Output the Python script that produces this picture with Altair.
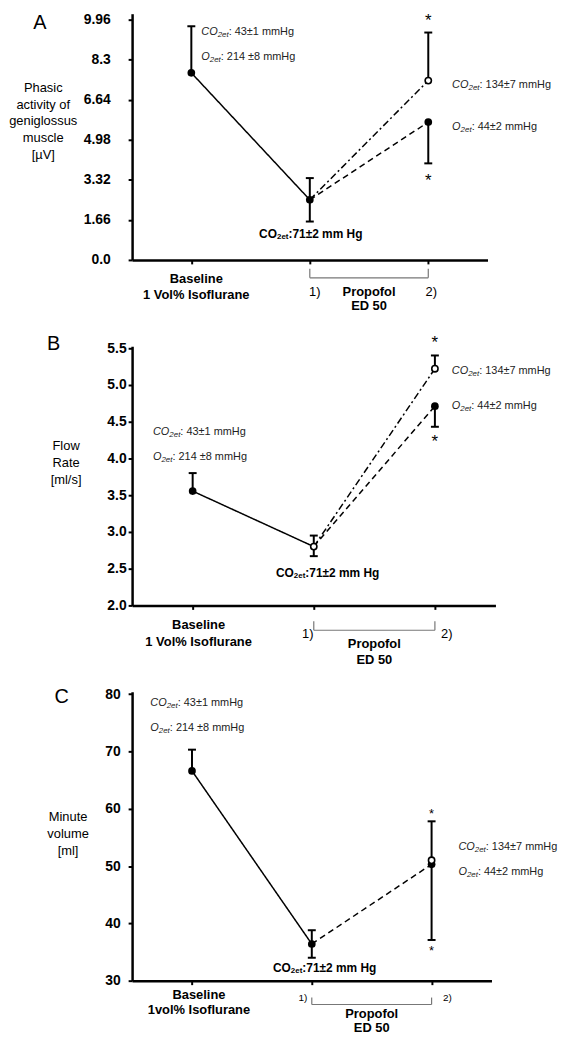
import altair as alt
import pandas as pd

FONT = "Liberation Sans"

# ---------------- data ----------------
# point order: 0 Baseline, 1 Propofol 1), 2 Propofol 2) CO2et 134 (open), 3 Propofol 2) O2et 44 (filled)
stage_x = [0, 1, 2, 2]

# Panel A: phasic activity of genioglossus muscle [µV]
A_mean = [7.75, 2.49, 7.43, 5.71]
A_hi = [9.68, 3.39, 9.42, None]
A_lo = [None, 1.59, None, 4.00]
A_open = [False, False, True, False]
A_yticks = [0.0, 1.66, 3.32, 4.98, 6.64, 8.3, 9.96]

# Panel B: flow rate [ml/s]
B_mean = [3.555, 2.80, 5.22, 4.71]
B_hi = [3.80, 2.95, 5.40, None]
B_lo = [None, 2.67, None, 4.43]
B_open = [False, True, True, False]
B_yticks = [2.0, 2.5, 3.0, 3.5, 4.0, 4.5, 5.0, 5.5]

# Panel C: minute volume [ml]
C_mean = [66.6, 36.4, 51.0, 50.3]
C_hi = [70.3, 38.8, 57.8, None]
C_lo = [None, 34.0, None, 37.1]
C_open = [False, False, True, False]
C_yticks = [30, 40, 50, 60, 70, 80]

# texts
NOTE_BASE_CO2 = ": 43±1 mmHg"
NOTE_BASE_O2 = ": 214 ±8 mmHg"
NOTE_P2_CO2 = ": 134±7 mmHg"
NOTE_P2_O2 = ": 44±2 mmHg"
NOTE_P1 = ":71±2 mm Hg"

# ---------------- helpers ----------------
REG = {' ': 278, ':': 278, '±': 549, 'm': 833, 'H': 722, 'g': 556, 'C': 722,
       'O': 778, 'e': 556, 't': 278}
BOLD = {' ': 278, ':': 333, '±': 549, 'm': 889, 'H': 722, 'g': 611, 'C': 722,
        'O': 778, 'e': 556, 't': 333}


def tw(s, size, bold=False):
    tbl = BOLD if bold else REG
    return sum(tbl.get(c, 556) for c in s) * size / 1000.0


DASH = {"solid": [1, 0], "dash": [6, 4], "dashdot": [7, 3, 2, 3]}


def panel(mean, hi, lo, opened, yticks, cfg):
    X = alt.X("x:Q", scale=alt.Scale(domain=[-0.5, 2.5], nice=False, zero=False),
              axis=alt.Axis(values=[0, 1, 2], labels=False, title=None, tickSize=4))
    Y = alt.Y("y:Q", scale=alt.Scale(domain=cfg["ydom"], nice=False, zero=False),
              axis=alt.Axis(values=yticks, format=cfg["fmt"], labelExpr=cfg["lexpr"],
                            labelPadding=cfg["lpad"], title=cfg["ytitle"], titleAngle=0,
                            titleAlign="center", titleBaseline="middle",
                            titleX=cfg["tx"], titleY=cfg["ty"], titleFontSize=13,
                            titleFontWeight="normal", titleLineHeight=17, titleFont=FONT))
    layers = []

    # connecting lines
    segs = {"iso": (0, 1), "co2": (1, 2), "o2": (1, 3)}
    names = [n for n in ["iso", "co2", "o2"] if cfg["styles"].get(n)]
    rows = []
    for n in names:
        i, j = segs[n]
        rows.append({"x": stage_x[i], "y": mean[i], "seg": n})
        rows.append({"x": stage_x[j], "y": mean[j], "seg": n})
    layers.append(alt.Chart(pd.DataFrame(rows)).mark_line(color="black", strokeWidth=1.5).encode(
        x=X, y=Y,
        strokeDash=alt.StrokeDash("seg:N", scale=alt.Scale(
            domain=names, range=[DASH[cfg["styles"][n]] for n in names]), legend=None)))

    # error bars
    err = []
    for k in range(4):
        for end in (hi[k], lo[k]):
            if end is not None:
                err.append({"x": stage_x[k], "y": mean[k], "y2": end})
    err_df = pd.DataFrame(err)
    layers.append(alt.Chart(err_df).mark_rule(color="black", strokeWidth=2).encode(
        x=X, y=Y, y2="y2:Q"))
    caps_df = pd.DataFrame({"x": err_df["x"], "y": err_df["y2"]})
    layers.append(alt.Chart(caps_df).mark_rule(color="black", strokeWidth=2, xOffset=-4,
                                               x2Offset=4).encode(x=X, x2="x:Q", y=Y))

    # points
    pts = pd.DataFrame({"x": stage_x, "y": mean, "open": opened})
    layers.append(alt.Chart(pts[~pts["open"]]).mark_circle(size=60, color="black", opacity=1)
                  .encode(x=X, y=Y))
    layers.append(alt.Chart(pts[pts["open"]]).mark_point(
        shape="circle", size=40, filled=False, fill="white", stroke="black",
        strokeWidth=1.6, opacity=1).encode(x=X, y=Y))

    def txt(x, y, text, dx=0, dy=0, size=11, italic=False, bold=False, align="left",
            baseline="middle", color="black"):
        return alt.Chart(pd.DataFrame({"x": [x], "y": [y]})).mark_text(
            text=text, dx=dx, dy=dy, fontSize=size, align=align, baseline=baseline,
            fontStyle="italic" if italic else "normal",
            fontWeight="bold" if bold else "normal", color=color, font=FONT).encode(x=X, y=Y)

    def rich(x, y, parts, dx, dy, center=False, color="#222"):
        total = sum(tw(t, s, b) for t, s, i, b, d in parts)
        cur = dx - (total / 2.0 if center else 0)
        out = []
        for t, s, it, b, d in parts:
            out.append(txt(x, y, t, dx=cur, dy=dy + d, size=s, italic=it, bold=b, color=color))
            cur += tw(t, s, b)
        return out

    def co2(rest, size=11):
        return [("CO", size, True, False, 0), ("2et", 8, True, False, 3), (rest, size, False, False, 0)]

    def o2(rest, size=11):
        return [("O", size, True, False, 0), ("2et", 8, True, False, 3), (rest, size, False, False, 0)]

    n = cfg["notes"]
    layers += rich(stage_x[0], hi[0], co2(NOTE_BASE_CO2), n["left_dx"], n["left_dy"][0])
    layers += rich(stage_x[0], hi[0], o2(NOTE_BASE_O2), n["left_dx"], n["left_dy"][1])
    layers += rich(stage_x[2], mean[2], co2(NOTE_P2_CO2), n["right_dx"], n["right_dy"][0])
    layers += rich(stage_x[3], mean[3], o2(NOTE_P2_O2), n["right_dx"], n["right_dy"][1])
    layers += rich(stage_x[1], lo[1],
                   [("CO", 12, False, True, 0), ("2et", 8, False, True, 3), (NOTE_P1, 12, False, True, 0)],
                   n["mid_dx"], n["mid_dy"], center=True, color="black")

    # significance stars
    ss = n["star_size"]
    layers.append(txt(stage_x[2], hi[2], "*", dy=n["star_dy"][0] + 0.57 * ss, size=ss,
                      align="center", baseline="alphabetic"))
    layers.append(txt(stage_x[3], lo[3], "*", dy=n["star_dy"][1] + 0.57 * ss, size=ss,
                      align="center", baseline="alphabetic"))

    # panel letter, anchored to the top-left corner of the plot
    layers.append(txt(-0.5, cfg["ydom"][1], cfg["letter"], dx=cfg["ldx"], dy=cfg["ldy"], size=20,
                      align="center"))

    # labels under the x axis
    b = cfg["bottom"]
    y0 = cfg["ydom"][0]
    layers.append(txt(0, y0, "Baseline", dx=b["base_dx"], dy=b["base_dy"][0], size=13,
                      bold=True, align="center"))
    layers.append(txt(0, y0, b["iso"], dx=b["base_dx"], dy=b["base_dy"][1], size=13,
                      bold=True, align="center"))
    layers.append(txt(1, y0, "1)", dx=b["n1_dx"], dy=b["num_dy"], size=b["num_size"], align="center"))
    layers.append(txt(2, y0, "2)", dx=b["n2_dx"], dy=b["num_dy"], size=b["num_size"], align="center"))
    layers.append(txt(1.5, y0, "Propofol", dy=b["prop_dy"][0], size=13, bold=True, align="center"))
    layers.append(txt(1.5, y0, "ED 50", dy=b["prop_dy"][1], size=13, bold=True, align="center"))
    br = pd.DataFrame({"x": [1], "x2": [2], "y": [y0]})
    layers.append(alt.Chart(br).mark_rule(color="#777", strokeWidth=1.2,
                                          yOffset=b["br"][1]).encode(x=X, x2="x2:Q", y=Y))
    ends = pd.DataFrame({"x": [1, 2], "y": [y0, y0]})
    layers.append(alt.Chart(ends).mark_rule(color="#777", strokeWidth=1.2,
                                            yOffset=b["br"][0], y2Offset=b["br"][1]).encode(
        x=X, y=Y, y2="y:Q"))

    return alt.layer(*layers).properties(width=cfg["w"], height=cfg["h"])


cfgA = dict(
    w=358, h=248, ydom=[0, 10.2], fmt=".2~f", lexpr="datum.value == 0 ? '0.0' : datum.label",
    lpad=18, ytitle=["Phasic", "activity of", "geniglossus", "muscle", "[µV]"], tx=-90, ty=74,
    letter="A", ldx=-93, ldy=9,
    styles={"iso": "solid", "co2": "dashdot", "o2": "dash"},
    notes=dict(left_dx=10, left_dy=[6, 31], right_dx=24, right_dy=[4, 5], mid_dx=1, mid_dy=13,
               star_dy=[-16, 13], star_size=17),
    bottom=dict(iso="1 Vol% Isoflurane", base_dx=5, base_dy=[19, 35], n1_dx=5, n2_dx=3, num_dy=32,
                num_size=13, prop_dy=[32, 46], br=[9, 18]),
)
cfgB = dict(
    w=366, h=261, ydom=[2, 5.525], fmt=".1f", lexpr="datum.label",
    lpad=2, ytitle=["Flow", "Rate", "[ml/s]"], tx=-67, ty=100,
    letter="B", ldx=-79, ldy=-2,
    styles={"iso": "solid", "co2": "dash", "o2": "dashdot"},
    notes=dict(left_dx=-40, left_dy=[-41, -16], right_dx=17, right_dy=[2, 0], mid_dx=14, mid_dy=17,
               star_dy=[-17, 11], star_size=17),
    bottom=dict(iso="1 Vol% Isoflurane", base_dx=6, base_dy=[20, 37], n1_dx=-6, n2_dx=12, num_dy=29,
                num_size=13, prop_dy=[39, 55], br=[16, 25]),
)
cfgC = dict(
    w=362, h=291, ydom=[30, 80.4], fmt="d", lexpr="datum.label",
    lpad=8, ytitle=["Minute", "volume", "[ml]"], tx=-65, ty=126,
    letter="C", ldx=-71, ldy=5,
    styles={"iso": "solid", "o2": "dash"},
    notes=dict(left_dx=-42, left_dy=[-47, -22], right_dx=27, right_dy=[-13, 8], mid_dx=13, mid_dy=10,
               star_dy=[-11, 8], star_size=13),
    bottom=dict(iso="1vol% Isoflurane", base_dx=7, base_dy=[14, 30], n1_dx=-9, n2_dx=16, num_dy=17,
                num_size=10, prop_dy=[34, 48], br=[17, 24]),
)

pA = panel(A_mean, A_hi, A_lo, A_open, A_yticks, cfgA)
pB = panel(B_mean, B_hi, B_lo, B_open, B_yticks, cfgB)
pC = panel(C_mean, C_hi, C_lo, C_open, C_yticks, cfgC)

chart = alt.vconcat(pA, pB, pC, spacing=87, bounds="flush").properties(padding=0).configure(
    font=FONT
).configure_view(stroke=None).configure_axis(
    grid=False, domainColor="black", domainWidth=2.5, tickColor="black", tickWidth=2,
    tickSize=4, labelColor="black", labelFontSize=14, labelFontWeight="bold", labelFont=FONT,
    titleColor="black"
)

chart.save("out.html", embed_options={"renderer": "svg", "actions": False})
